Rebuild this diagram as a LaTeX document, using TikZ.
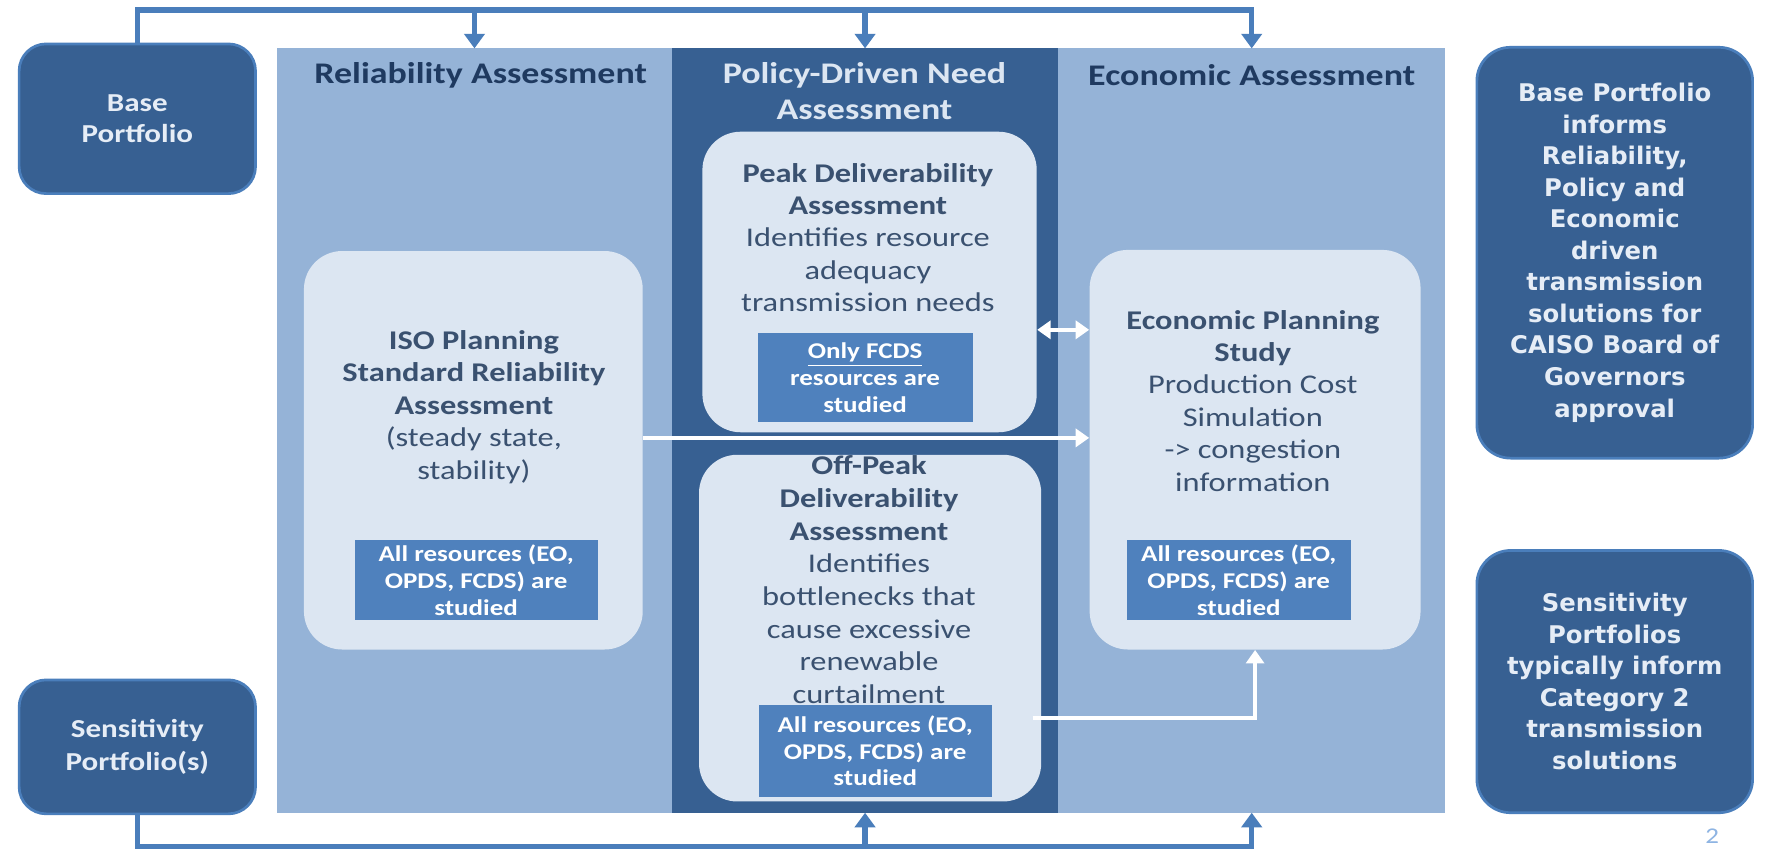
\documentclass[tikz,border=0pt]{standalone}
\usepackage{fontspec}
\setmainfont{Carlito}[FakeStretch=1.2]
\newfontfamily\vfont{DejaVu Sans}
\usetikzlibrary{arrows.meta}
\definecolor{panelL}{HTML}{95B3D7}
\definecolor{panelD}{HTML}{376092}
\definecolor{boxL}{HTML}{DCE6F2}
\definecolor{boxM}{HTML}{4F81BD}
\definecolor{busC}{HTML}{4A7EBB}
\definecolor{titleD}{HTML}{1F3A60}
\definecolor{txtC}{HTML}{3A5170}
\definecolor{sideTxt}{HTML}{E6EDF6}
\definecolor{pgnum}{HTML}{8EB4E3}
\begin{document}
\begin{tikzpicture}[x=0.5pt,y=-0.5pt,
  panelbox/.style={rectangle,inner sep=0pt,outer sep=0pt},
  sidebox/.style={draw=busC,line width=1.2pt,fill=panelD,rounded corners=12pt,inner sep=0pt,
    text=sideTxt,align=center,font=\bfseries\fontsize{11.5}{13.5}\selectfont},
  rightbox/.style={draw=busC,line width=1.2pt,fill=panelD,rounded corners=15pt,inner sep=0pt,
    text=sideTxt,align=center,font=\vfont\bfseries\fontsize{10.8}{14}\selectfont},
  roundbox/.style={fill=boxL,rounded corners=17pt,inner sep=0pt},
  smallbox/.style={fill=boxM,inner sep=0pt,text=white,align=center,
    font=\bfseries\fontsize{10}{11.9}\selectfont},
  bodytxt/.style={text=txtC,align=center,inner sep=0pt,font=\fontsize{12}{14.4}\selectfont},
  titletxt/.style={align=center,inner sep=0pt,font=\bfseries\fontsize{13.3}{16}\selectfont},
  bus/.style={draw=busC,line width=2.4pt},
  busarrow/.style={bus,-{Triangle[width=9pt,length=6.5pt]}},
  wline/.style={draw=white,line width=2pt},
  warrow/.style={wline,-{Triangle[width=8pt,length=6pt]}},
  wdarrow/.style={wline,{Triangle[width=8pt,length=6pt]}-{Triangle[width=8pt,length=6pt]}}
]
\useasboundingbox (0,0) rectangle (1568,757);
\clip (0,0) rectangle (1568,757);
\fill[white] (0,0) rectangle (1568,757);

% panels
\node[panelbox,fill=panelL,minimum width=175.5pt,minimum height=339.5pt] (relpanel) at (421.5,382.5) {};
\node[panelbox,fill=panelD,minimum width=171.5pt,minimum height=339.5pt] (polpanel) at (768.5,382.5) {};
\node[panelbox,fill=panelL,minimum width=172pt,minimum height=339.5pt] (ecopanel) at (1112,382.5) {};

% panel titles
\node[titletxt,text=titleD] (reltitle) at (427,67) {Reliability Assessment};
\node[titletxt,text=boxL] (poltitle) at (768,81) {Policy-Driven Need\\Assessment};
\node[titletxt,text=titleD] (ecotitle) at (1112,67) {Economic Assessment};

% side boxes
\node[sidebox,minimum width=105pt,minimum height=66.5pt] (base) at (122,105.5) {Base\\Portfolio};
\node[sidebox,minimum width=105pt,minimum height=59.5pt,font=\bfseries\fontsize{11.5}{15}\selectfont] (sens) at (122,663.5) {Sensitivity\\Portfolio(s)};
\node[rightbox,minimum width=122.5pt,minimum height=182.5pt] (rbase) at (1434.5,224.5)
  {Base Portfolio\\informs\\Reliability,\\Policy and\\Economic\\driven\\transmission\\solutions for\\CAISO Board of\\Governors\\approval};
\node[rightbox,minimum width=122.5pt,minimum height=116.5pt] (rsens) at (1434.5,605.5)
  {Sensitivity\\Portfolios\\typically inform\\Category 2\\transmission\\solutions};

% inner rounded boxes
\node[roundbox,minimum width=150.5pt,minimum height=177pt] (iso) at (420.5,400) {};
\node[roundbox,minimum width=148.5pt,minimum height=133.5pt] (peak) at (772.5,250.5) {};
\node[roundbox,minimum width=152pt,minimum height=154pt] (offpeak) at (773,558) {};
\node[roundbox,minimum width=147pt,minimum height=177.5pt] (econ) at (1115,399.5) {};

% texts in rounded boxes
\node[bodytxt] (isotxt) at (421,361.5)
  {\textbf{ISO Planning}\\\textbf{Standard Reliability}\\\textbf{Assessment}\\(steady state,\\stability)};
\node[bodytxt] (peaktxt) at (771,211)
  {\textbf{Peak Deliverability}\\\textbf{Assessment}\\Identifies resource\\adequacy\\transmission needs};
\node[bodytxt,font=\fontsize{12}{14.5}\selectfont] (offtxt) at (772,515)
  {\textbf{Off-Peak}\\\textbf{Deliverability}\\\textbf{Assessment}\\Identifies\\bottlenecks that\\cause excessive\\renewable\\curtailment};
\node[bodytxt] (econtxt) at (1113,356)
  {\textbf{Economic Planning}\\\textbf{Study}\\Production Cost\\Simulation\\-> congestion\\information};

% small boxes
\node[smallbox,minimum width=108pt,minimum height=35.5pt] (isosmall) at (423,515.5) {All resources (EO,\\OPDS, FCDS) are\\studied};
\node[smallbox,minimum width=95.5pt,minimum height=39.5pt] (peaksmall) at (768.5,335.5) {\underline{Only FCDS}\\resources are\\studied};
\node[smallbox,minimum width=103.5pt,minimum height=41pt] (offsmall) at (777.5,667) {All resources (EO,\\OPDS, FCDS) are\\studied};
\node[smallbox,minimum width=99.5pt,minimum height=35.5pt] (ecosmall) at (1100.5,515.5) {All resources (EO,\\OPDS, FCDS) are\\studied};

% bus lines
\coordinate (tb) at (0,9);
\coordinate (bb) at (0,752);
\draw[busarrow] (base.north) -- (base.north |- tb) -| (ecopanel.north);
\draw[busarrow] (relpanel.north |- tb) -- (relpanel.north);
\draw[busarrow] (polpanel.north |- tb) -- (polpanel.north);
\draw[busarrow] (sens.south) -- (sens.south |- bb) -| (ecopanel.south);
\draw[busarrow] (polpanel.south |- bb) -- (polpanel.south);

% white arrows
\coordinate (wa) at (0,389);
\coordinate (wb) at (0,293);
\coordinate (wc) at (0,638);
\draw[warrow] (iso.east |- wa) -- (econ.west |- wa);
\draw[wdarrow] (peak.east |- wb) -- (econ.west |- wb);
\draw[warrow] ([xshift=-4pt]offpeak.east |- wc) -| (econ.south);

% page number
\node[text=pgnum,font=\fontsize{10}{12}\selectfont,anchor=north,inner sep=0pt] (pg) at (1521,736) {2};
\end{tikzpicture}
\end{document}
